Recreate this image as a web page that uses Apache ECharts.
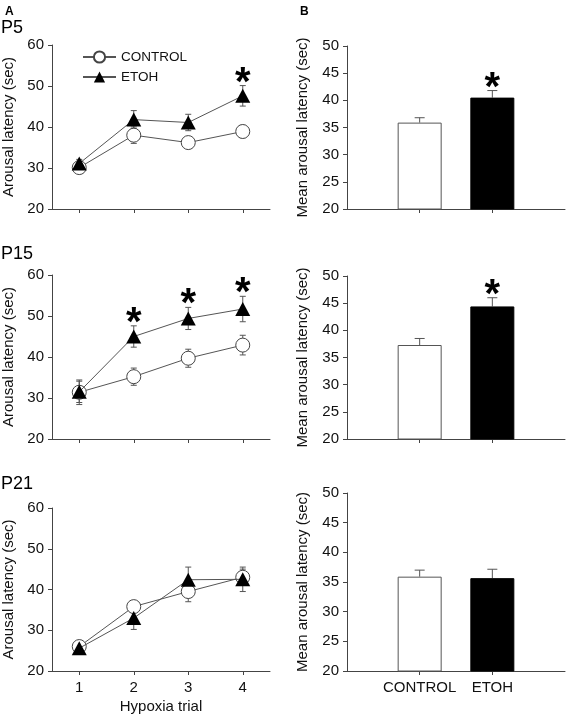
<!DOCTYPE html>
<html><head><meta charset="utf-8">
<script src="https://cdn.jsdelivr.net/npm/echarts@6/dist/echarts.min.js"></script>
<style>html,body{margin:0;padding:0;background:#fff}#c{width:572px;height:716px}</style>
</head><body><div id="c"></div>
<script>
// ---- data ----
const trials = [1, 2, 3, 4];
const groups = ['CONTROL', 'ETOH'];
const panels = ['P5', 'P15', 'P21'];
const yTicksLeft = [20, 30, 40, 50, 60];
const yTicksRight = [20, 25, 30, 35, 40, 45, 50];

const p5Control = [30.1, 38.0, 36.2, 38.9];
const p5ControlErr = [0.8, 2.0, 1.0, 1.5];
const p5Etoh = [31.1, 41.8, 41.1, 47.6];
const p5EtohErr = [1.0, 2.2, 2.0, 2.5];

const p15Control = [31.4, 35.2, 39.7, 42.9];
const p15ControlErr = [3.0, 2.1, 2.2, 2.4];
const p15Etoh = [31.5, 45.0, 49.4, 51.7];
const p15EtohErr = [2.6, 2.6, 2.7, 3.1];

const p21Control = [26.0, 35.8, 39.5, 43.0];
const p21ControlErr = [1.0, 1.0, 2.5, 2.0];
const p21Etoh = [25.6, 33.0, 42.4, 42.5];
const p21EtohErr = [1.2, 2.8, 3.1, 3.0];

const p5Mean = [35.9, 40.5];
const p5MeanErr = [0.9, 1.3];
const p15Mean = [37.3, 44.4];
const p15MeanErr = [1.2, 1.6];
const p21Mean = [35.9, 35.65];
const p21MeanErr = [1.1, 1.5];

// significance (ETOH) : trial indices
const p5Sig = [4];
const p15Sig = [2, 3, 4];
const p21Sig = [];
const meanSig = [true, true, false]; // ETOH bar significant per panel

// ---- build ----
const FONT = 'Liberation Sans, Arial, sans-serif';
const lineData = [
  [p5Control, p5ControlErr, p5Etoh, p5EtohErr, p5Sig],
  [p15Control, p15ControlErr, p15Etoh, p15EtohErr, p15Sig],
  [p21Control, p21ControlErr, p21Etoh, p21EtohErr, p21Sig]
];
const barData = [[p5Mean, p5MeanErr], [p15Mean, p15MeanErr], [p21Mean, p21MeanErr]];

const leftGrids = [{top: 45, height: 164}, {top: 275, height: 164}, {top: 508, height: 163}];
const rightGrids = [{top: 46, height: 163}, {top: 276, height: 163}, {top: 493, height: 178}];

const grid = [], xAxis = [], yAxis = [], series = [];
const axisLineStyle = {color: '#444', width: 1};
const labelStyle = {fontSize: 15, color: '#111', fontFamily: FONT};

function errRender(capHalf, twoSided) {
  return function (params, api) {
    const x = api.value(0), m = api.value(1), e = api.value(2);
    const top = api.coord([x, m + e]);
    const bot = api.coord([x, twoSided ? m - e : m]);
    const st = {stroke: '#555', lineWidth: 1};
    const ch = [
      {type: 'line', shape: {x1: top[0], y1: top[1], x2: bot[0], y2: bot[1]}, style: st},
      {type: 'line', shape: {x1: top[0] - capHalf, y1: top[1], x2: top[0] + capHalf, y2: top[1]}, style: st}
    ];
    if (twoSided) ch.push({type: 'line', shape: {x1: bot[0] - capHalf, y1: bot[1], x2: bot[0] + capHalf, y2: bot[1]}, style: st});
    return {type: 'group', children: ch};
  };
}
function starRender(params, api) {
  const p = api.coord([api.value(0), api.value(1)]);
  return {type: 'text', x: p[0], y: p[1] - 2,
    style: {text: '*', fontSize: 40, fontWeight: 'bold', fontFamily: FONT, fill: '#000', align: 'center', verticalAlign: 'middle'}};
}

for (let i = 0; i < 3; i++) {
  const isBottom = i === 2;
  // left grid
  const gi = grid.length;
  grid.push({left: 52, width: 218, top: leftGrids[i].top, height: leftGrids[i].height});
  xAxis.push({gridIndex: gi, type: 'value', min: 0.5, max: 4.5,
    axisLine: {show: true, onZero: false, lineStyle: axisLineStyle},
    axisTick: {show: true, length: 4, customValues: trials, lineStyle: axisLineStyle},
    axisLabel: Object.assign({show: isBottom, customValues: trials, margin: 9}, labelStyle),
    splitLine: {show: false},
    name: isBottom ? 'Hypoxia trial' : '', nameLocation: 'middle', nameGap: 28,
    nameTextStyle: labelStyle});
  yAxis.push({gridIndex: gi, type: 'value', min: 20, max: 60, interval: 10,
    axisLine: {show: true, lineStyle: axisLineStyle},
    axisTick: {show: true, length: 4, lineStyle: axisLineStyle},
    axisLabel: Object.assign({margin: 8}, labelStyle),
    splitLine: {show: false},
    name: 'Arousal latency (sec)', nameLocation: 'middle', nameGap: 36,
    nameTextStyle: labelStyle});
  const [cM, cE, eM, eE, sig] = lineData[i];
  series.push({type: 'custom', xAxisIndex: gi, yAxisIndex: gi, z: 1, silent: true,
    renderItem: errRender(3, true), data: trials.map((t, k) => [t, cM[k], cE[k]])});
  series.push({type: 'custom', xAxisIndex: gi, yAxisIndex: gi, z: 1, silent: true,
    renderItem: errRender(3, true), data: trials.map((t, k) => [t, eM[k], eE[k]])});
  series.push({type: 'line', name: 'CONTROL', xAxisIndex: gi, yAxisIndex: gi, z: 3,
    data: trials.map((t, k) => [t, cM[k]]), symbol: 'circle', symbolSize: 14,
    itemStyle: {color: '#fff', borderColor: '#444', borderWidth: 1},
    lineStyle: {color: '#555', width: 1}, animation: false});
  series.push({type: 'line', name: 'ETOH', xAxisIndex: gi, yAxisIndex: gi, z: 4,
    data: trials.map((t, k) => [t, eM[k]]), symbol: 'triangle', symbolSize: [15, 14],
    itemStyle: {color: '#000'},
    lineStyle: {color: '#555', width: 1}, animation: false});
  if (sig.length) series.push({type: 'custom', xAxisIndex: gi, yAxisIndex: gi, z: 5, silent: true,
    renderItem: starRender, data: sig.map(t => [t, eM[t - 1] + eE[t - 1]])});

  // right grid
  const gj = grid.length;
  grid.push({left: 347, width: 218, top: rightGrids[i].top, height: rightGrids[i].height});
  xAxis.push({gridIndex: gj, type: 'value', min: 0, max: 3,
    axisLine: {show: true, onZero: false, lineStyle: axisLineStyle},
    axisTick: {show: true, length: 4, customValues: [1, 2], lineStyle: axisLineStyle},
    axisLabel: Object.assign({show: isBottom, customValues: [1, 2], margin: 9,
      formatter: v => groups[Math.round(v) - 1]}, labelStyle),
    splitLine: {show: false}});
  yAxis.push({gridIndex: gj, type: 'value', min: 20, max: 50, interval: 5,
    axisLine: {show: true, lineStyle: axisLineStyle},
    axisTick: {show: true, length: 4, lineStyle: axisLineStyle},
    axisLabel: Object.assign({margin: 8}, labelStyle),
    splitLine: {show: false},
    name: 'Mean arousal latency (sec)', nameLocation: 'middle', nameGap: 37,
    nameTextStyle: labelStyle});
  const [bM, bE] = barData[i];
  const barStyles = [{color: '#fff', borderColor: '#555', borderWidth: 1}, {color: '#000', borderColor: '#000', borderWidth: 1}];
  series.push({type: 'custom', xAxisIndex: gj, yAxisIndex: gj, z: 1, silent: true,
    renderItem: errRender(5, false), data: groups.map((g, k) => [k + 1, bM[k], bE[k]])});
  series.push({type: 'bar', xAxisIndex: gj, yAxisIndex: gj, z: 2, barWidth: 44, animation: false,
    data: groups.map((g, k) => ({value: [k + 1, bM[k]], itemStyle: barStyles[k]}))});
  if (meanSig[i]) series.push({type: 'custom', xAxisIndex: gj, yAxisIndex: gj, z: 5, silent: true,
    renderItem: starRender, data: [[2, bM[1] + bE[1]]]});
}

const panelLabelTops = [19, 245, 475];
const graphic = [
  {type: 'text', left: 5, top: 6, style: {text: 'A', fontSize: 12, fontWeight: 'bold', fontFamily: FONT, fill: '#000'}},
  {type: 'text', left: 300, top: 6, style: {text: 'B', fontSize: 12, fontWeight: 'bold', fontFamily: FONT, fill: '#000'}}
];
panels.forEach((p, k) => graphic.push({type: 'text', left: 1, top: panelLabelTops[k],
  style: {text: p, fontSize: 18, fontFamily: FONT, fill: '#000'}}));

const chart = echarts.init(document.getElementById('c'), null, {renderer: 'canvas'});
chart.setOption({
  animation: false,
  backgroundColor: '#fff',
  textStyle: {fontFamily: FONT},
  grid, xAxis, yAxis, series, graphic,
  legend: {data: groups, orient: 'vertical', left: 82, top: 50, padding: 0, itemWidth: 33, itemHeight: 14, itemGap: 6,
    textStyle: {fontSize: 13.5, color: '#111', fontFamily: FONT}, selectedMode: false}
});
</script></body></html>
